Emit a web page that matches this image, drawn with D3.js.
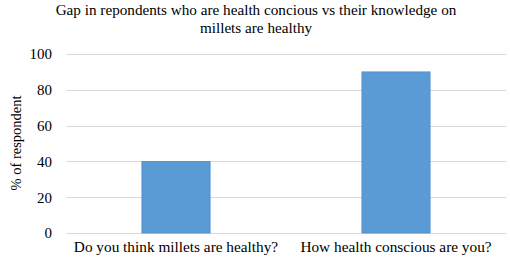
<!DOCTYPE html>
<html>
<head>
<meta charset="utf-8">
<script src="https://cdn.jsdelivr.net/npm/d3@7"></script>
<style>
  body { margin: 0; background: #fff; }
  text { font-family: "Liberation Serif", "Times New Roman", serif; fill: #000; }
</style>
</head>
<body>
<script>
// chart data
var categories = ["Do you think millets are healthy?", "How health conscious are you?"];
var values = [40, 90];
var yTicks = [0, 20, 40, 60, 80, 100];
var titleLines = ["Gap in repondents who are health concious vs their knowledge on", "millets are healthy"];
var yLabel = "% of respondent";

var totalWidth = 510, totalHeight = 269;
var margin = {top: 54, right: 4, bottom: 36, left: 66};
var width = totalWidth - margin.left - margin.right;
var height = totalHeight - margin.top - margin.bottom;

var svg = d3.select("body").append("svg")
    .attr("width", totalWidth)
    .attr("height", totalHeight);

var g = svg.append("g")
    .attr("transform", "translate(" + margin.left + "," + margin.top + ")");

var xScale = d3.scaleBand().domain(categories).range([0, width]).padding(0);
var yScale = d3.scaleLinear().domain([0, 100]).range([height, 0]);

// gridlines
g.selectAll(".grid").data(yTicks).enter()
    .append("line")
    .attr("class", "grid")
    .attr("x1", 0).attr("x2", width)
    .attr("y1", function(d){ return Math.round(yScale(d)) + 0.5; })
    .attr("y2", function(d){ return Math.round(yScale(d)) + 0.5; })
    .attr("stroke", "#d9d9d9")
    .attr("stroke-width", 1);

// y axis labels
var yAxis = d3.axisLeft(yScale).tickValues(yTicks).tickSize(0).tickPadding(14);
var yAxisGroup = g.append("g").call(yAxis);
yAxisGroup.select(".domain").remove();
yAxisGroup.attr("font-family", null).attr("font-size", null);
yAxisGroup.selectAll("text")
    .style("font-family", "'Liberation Serif', serif")
    .style("font-size", "15px")
    .attr("fill", "#000");

// bars
var barFrac = 0.31;
g.selectAll(".bar").data(values).enter()
    .append("rect")
    .attr("class", "bar")
    .attr("x", function(d, i){ return xScale(categories[i]) + xScale.bandwidth() * (1 - barFrac) / 2; })
    .attr("width", xScale.bandwidth() * barFrac)
    .attr("y", function(d){ return yScale(d); })
    .attr("height", function(d){ return height - yScale(d); })
    .attr("fill", "#5b9bd5")
    .attr("stroke", "#4f8fca")
    .attr("stroke-width", 0.8);

// x axis labels
var xAxis = d3.axisBottom(xScale).tickSize(0).tickPadding(8);
var xAxisGroup = g.append("g")
    .attr("transform", "translate(0," + height + ")")
    .call(xAxis);
xAxisGroup.select(".domain").remove();
xAxisGroup.attr("font-family", null).attr("font-size", null);
xAxisGroup.selectAll("text")
    .style("font-family", "'Liberation Serif', serif")
    .style("font-size", "15.3px")
    .attr("fill", "#000");

// title
svg.append("text")
    .attr("x", 256)
    .attr("y", 15)
    .attr("text-anchor", "middle")
    .style("font-size", "15.2px")
    .selectAll("tspan").data(titleLines).enter()
    .append("tspan")
    .attr("x", 256)
    .attr("dy", function(d, i){ return i == 0 ? 0 : 18; })
    .text(function(d){ return d; });

// y axis title
svg.append("text")
    .attr("transform", "translate(21," + 143 + ") rotate(-90)")
    .attr("text-anchor", "middle")
    .style("font-size", "14.5px")
    .text(yLabel);
</script>
</body>
</html>
